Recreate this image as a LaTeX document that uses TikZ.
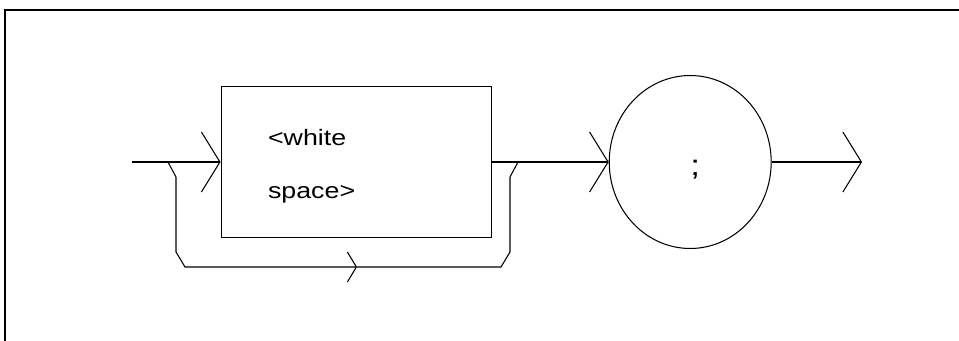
\documentclass[tikz,border=0pt]{standalone}
\usepackage{fontspec}
\setmainfont[FakeStretch=1.2]{Liberation Sans}
\usepackage{tikz}
\usetikzlibrary{positioning,arrows.meta,shapes.geometric}

\begin{document}
\begin{tikzpicture}[
    x=0.02cm, y=-0.02cm,
    line width=0.6pt,
    font=\fontsize{12.7}{30.2}\selectfont,
    block/.style={
        draw,
        align=left,
        text width=3.53cm,
        text height=13.5pt,
        minimum width=5.41cm,
        minimum height=3.01cm
    },
    term/.style={
        draw,
        ellipse,
        inner sep=0pt,
        minimum width=3.24cm,
        minimum height=3.46cm
    },
    arrow/.style={-{Straight Barb[length=3.7mm,width=12mm]}},
    small arrow/.style={-{Straight Barb[length=1.8mm,width=6mm]}},
    frame/.style={line width=1.2pt}
]
\useasboundingbox (0,0) rectangle (959,341);
\draw[frame] (4.7,341) |- (959,10);

\node[block] (ws) at (356.3,162) {<white\\space>};
\node[term, label={[xshift=0.1cm,yshift=-0.15cm,font=\fontsize{16.5}{20}\selectfont]center:;}] (semi) at (690.2,162) {};

\coordinate (in) at (132,162);
\coordinate (split) at (168,162);
\coordinate (join) at (518,162);
\coordinate (loop) at (357,267);
\coordinate (out) at (862,162);

\draw[arrow] (in) -- (ws.west);
\draw[arrow] (ws.east) -- (semi.west);
\draw[arrow] (semi.east) -- (out);

% bypass under the box
\draw[small arrow] (split) -- ++(8,15) -- ++(0,75) -- ++(9,15) -- (loop);
\draw (loop) -- (501,267) -- ++(9,-15) -- ++(0,-75) -- (join);

\end{tikzpicture}
\end{document}
